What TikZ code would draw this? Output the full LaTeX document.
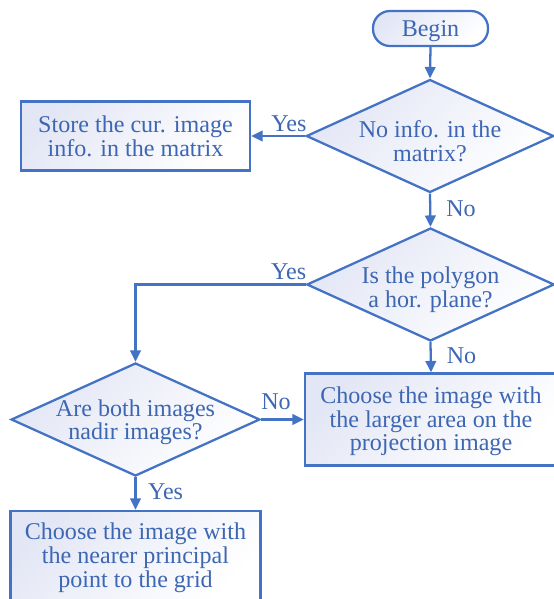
\documentclass[tikz,border=0pt]{standalone}
\usepackage{fontspec}
\setmainfont{Liberation Serif}
\usetikzlibrary{shapes.geometric,arrows.meta}
\definecolor{flowline}{HTML}{4472C4}
\definecolor{flowtext}{HTML}{3D66B3}
\definecolor{flowfill}{HTML}{E3E7F5}

\begin{document}
\begin{tikzpicture}[x=0.02cm, y=-0.02cm,
  box/.style={draw=flowline, line width=1.3pt, top color=flowfill, bottom color=white,
    shading angle=45, text=flowtext, align=center, inner sep=0pt,
    font=\fontsize{13.7}{13.6}\selectfont},
  startbox/.style={box, rectangle, rounded corners=0.34cm, minimum width=2.3cm, minimum height=0.7cm},
  stepbox/.style={box, rectangle},
  choice/.style={box, diamond, aspect=2.2, inner sep=-1pt, minimum width=4.95cm, minimum height=2.26cm},
  arr/.style={draw=flowline, line width=1.3pt, -{Triangle[length=6.5pt,width=6pt]}},
  lbl/.style={text=flowtext, inner sep=0pt, font=\fontsize{13.7}{13.6}\selectfont}]
\useasboundingbox (0,0) rectangle (554,599);
\clip (0,0) rectangle (554,599);

\node[startbox, text height=10.5pt, text depth=1.9pt] (begin) at (430.5,28.5) {Begin};
\node[choice, text height=29pt, text depth=-5.9pt] (info) at (430,136) {No info. in the\\matrix?};
\node[stepbox, minimum width=4.58cm, minimum height=1.38cm] (store) at (135.5,136) {Store the cur. image\\info. in the matrix};
\node[choice, text height=26.4pt, text depth=-0.3pt] (plane) at (430.5,284.5) {Is the polygon\\a hor. plane?};
\node[choice, text height=24.7pt, text depth=1.4pt] (nadir) at (135.5,419.5) {Are both images\\nadir images?};
\node[stepbox, minimum width=5.04cm, minimum height=1.84cm, text height=37.7pt, text depth=1.9pt] (area) at (431,419.5) {Choose the image with\\the larger area on the\\projection image};
\node[stepbox, minimum width=5cm, minimum height=1.8cm, text height=37.7pt, text depth=1.9pt] (near) at (135.5,556) {Choose the image with\\the nearer principal\\point to the grid};

\draw[arr] (begin.south) -- (info.north);
\draw[arr] (info.west) -- node[lbl, above=2pt, pos=0.3]{Yes} (store.east);
\draw[arr] (info.south) -- node[lbl, right=8.5pt, pos=0.44]{No} (plane.north);
\draw[arr] (plane.west) -| node[lbl, above=2pt, pos=0.05]{Yes} (nadir.north);
\draw[arr] (plane.south) -- node[lbl, right=8.5pt, pos=0.44]{No} (area.north);
\draw[arr] (nadir.east) -- node[lbl, above=5pt, pos=0.35]{No} (area.west);
\draw[arr] (nadir.south) -- node[lbl, right=6.5pt, pos=0.46]{Yes} (near.north);

\end{tikzpicture}
\end{document}
